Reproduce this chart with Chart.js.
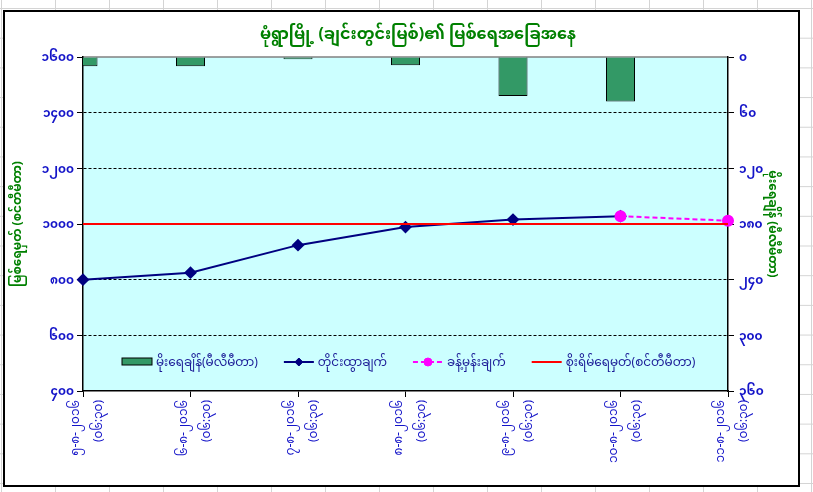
<!DOCTYPE html>
<html>
<head>
<meta charset="utf-8">
<script src="https://cdn.jsdelivr.net/npm/chart.js@4.4.1/dist/chart.umd.min.js"></script>
<style>
  html, body { margin: 0; padding: 0; width: 813px; height: 492px; overflow: hidden; }
  body {
    background-color: #fff;
    background-image:
      linear-gradient(to right, #d4d4d4 1px, transparent 1px),
      linear-gradient(to bottom, #d4d4d4 1px, transparent 1px);
    background-size: 54px 29.7px;
    background-position: 1px 8px;
  }
  #box {
    position: absolute; left: 3px; top: 10px; width: 797px; height: 477px;
    box-sizing: border-box; border: 2px solid #000; background: #fff;
  }
</style>
</head>
<body>
<div id="box"><canvas id="riverChart"></canvas></div>
<script>
var dates = ["၅-၈-၂၀၁၆", "၆-၈-၂၀၁၆", "၇-၈-၂၀၁၆", "၈-၈-၂၀၁၆", "၉-၈-၂၀၁၆", "၁၀-၈-၂၀၁၆", "၁၁-၈-၂၀၁၆"];
var times = ["(၀၆:၃၀)", "(၀၆:၃၀)", "(၀၆:၃၀)", "(၀၆:၃၀)", "(၀၆:၃၀)", "(၀၆:၃၀)", "(၀၆:၃၀)"];

var rainfall = [10, 10, 2.5, 9, 42, 48, null];
var observed = [800, 825, 924, 989, 1016, 1028, null];
var forecast = [null, null, null, null, null, 1028, 1012];
var dangerLevel = [1000, 1000, 1000, 1000, 1000, 1000, 1000];

var levelTicks = [400, 600, 800, 1000, 1200, 1400, 1600];
var levelTickLabels = ["၄၀၀", "၆၀၀", "၈၀၀", "၁၀၀၀", "၁၂၀၀", "၁၄၀၀", "၁၆၀၀"];
var rainTicks = [0, 60, 120, 180, 240, 300, 360];
var rainTickLabels = ["၀", "၆၀", "၁၂၀", "၁၈၀", "၂၄၀", "၃၀၀", "၃၆၀"];

var mmFont = "'Noto Sans Myanmar', 'Padauk', 'Myanmar Text', 'Noto Sans', sans-serif";
var tickBlue = "#1414c8";
var titleGreen = "#008000";

var xLabels = dates.map(function(d, i) {
  return [d, times[i]];
});

var plotBackground = {
  id: "plotBackground",
  beforeDraw: function(chart) {
    var a = chart.chartArea, ctx = chart.ctx;
    ctx.save();
    ctx.fillStyle = "#ccffff";
    ctx.fillRect(a.left, a.top, a.right - a.left, a.bottom - a.top);
    ctx.strokeStyle = "#808080";
    ctx.lineWidth = 1.5;
    ctx.beginPath();
    ctx.moveTo(a.left, a.top);
    ctx.lineTo(a.right, a.top);
    ctx.stroke();
    ctx.restore();
  }
};

// legend sits inside the plot, near the bottom
var insideLegend = {
  id: "insideLegend",
  afterDatasetsDraw: function(chart) {
    var a = chart.chartArea, ctx = chart.ctx;
    var y = a.bottom - 29;
    var x = a.left + 39;
    ctx.save();
    ctx.font = "12px " + mmFont;
    ctx.textBaseline = "middle";
    chart.data.datasets.forEach(function(ds) {
      var w = 30;
      if (ds.type === "bar") {
        ctx.fillStyle = ds.backgroundColor;
        ctx.fillRect(x, y - 4, w, 7);
        ctx.strokeStyle = ds.borderColor;
        ctx.lineWidth = 1;
        ctx.strokeRect(x, y - 4, w, 7);
      } else {
        ctx.strokeStyle = ds.borderColor;
        ctx.lineWidth = ds.borderWidth;
        ctx.setLineDash(ds.borderDash || []);
        ctx.beginPath();
        ctx.moveTo(x, y);
        ctx.lineTo(x + w, y);
        ctx.stroke();
        ctx.setLineDash([]);
        if (ds.pointRadius) {
          ctx.fillStyle = ds.pointBackgroundColor;
          ctx.strokeStyle = ds.pointBorderColor;
          ctx.lineWidth = 1;
          Chart.helpers.drawPoint(ctx, { pointStyle: ds.pointStyle, radius: ds.pointRadius - 1, borderWidth: 1 }, x + w / 2, y);
        }
      }
      ctx.fillStyle = "#1a1a96";
      ctx.fillText(ds.label, x + w + 4, y + 3);
      x += w + 4 + ctx.measureText(ds.label).width + 26;
    });
    ctx.restore();
  }
};

var ctx = document.getElementById("riverChart").getContext("2d");
new Chart(ctx, {
  type: "line",
  data: {
    labels: xLabels,
    datasets: [{
      type: "bar",
      label: "မိုးရေချိန်(မီလီမီတာ)",
      data: rainfall,
      yAxisID: "y2",
      backgroundColor: "#339966",
      borderColor: "#000000",
      borderWidth: 1,
      barPercentage: 0.27,
      categoryPercentage: 1,
      clip: 0,
      order: 3
    }, {
      type: "line",
      label: "တိုင်းထွာချက်",
      data: observed,
      yAxisID: "y",
      borderColor: "#000080",
      borderWidth: 2,
      pointStyle: "rectRot",
      pointRadius: 5,
      pointBackgroundColor: "#000080",
      pointBorderColor: "#000080",
      tension: 0,
      order: 2
    }, {
      type: "line",
      label: "ခန့်မှန်းချက်",
      data: forecast,
      yAxisID: "y",
      borderColor: "#ff00ff",
      borderWidth: 2,
      borderDash: [5, 3],
      pointStyle: "circle",
      pointRadius: 5,
      pointBackgroundColor: "#ff00ff",
      pointBorderColor: "#ff00ff",
      tension: 0,
      order: 1
    }, {
      type: "line",
      label: "စိုးရိမ်ရေမှတ်(စင်တီမီတာ)",
      data: dangerLevel,
      yAxisID: "y",
      borderColor: "#ff0000",
      borderWidth: 2,
      pointRadius: 0,
      tension: 0,
      order: 0
    }]
  },
  options: {
    responsive: true,
    maintainAspectRatio: false,
    animation: false,
    layout: { padding: 0 },
    plugins: {
      legend: { display: false },
      tooltip: { enabled: false },
      title: {
        display: true,
        fullSize: false,
        text: "      မုံရွာမြို့ (ချင်းတွင်းမြစ်)၏ မြစ်ရေအခြေအနေ",
        color: titleGreen,
        font: { family: mmFont, size: 16, weight: "bold" },
        padding: { top: 16, bottom: 9.8 }
      }
    },
    scales: {
      x: {
        offset: false,
        grid: { offset: false, drawOnChartArea: false, color: "#000", tickLength: 6 },
        border: { color: "#000", width: 1.5 },
        ticks: {
          autoSkip: false,
          maxRotation: 90,
          minRotation: 90,
          color: tickBlue,
          labelOffset: -5,
          padding: 3,
          font: { family: mmFont, size: 12, lineHeight: 1.9 }
        },
        afterFit: function(s) { s.height = 94; }
      },
      y: {
        position: "left",
        min: 400,
        max: 1600,
        afterBuildTicks: function(s) {
          s.ticks = levelTicks.map(function(v) { return { value: v }; });
        },
        ticks: {
          color: tickBlue,
          padding: 3,
          labelOffset: 3,
          font: { family: mmFont, size: 12, weight: "bold" },
          callback: function(v) { return levelTickLabels[levelTicks.indexOf(v)]; }
        },
        grid: {
          color: function(c) {
            if (c.tick && (c.tick.value === 1600 || c.tick.value === 400)) return "rgba(0,0,0,0)";
            return "#000";
          },
          tickColor: "#000",
          lineWidth: 1,
          tickLength: 6,
          tickBorderDash: []
        },
        border: { color: "#000", width: 1.5, dash: [3, 2] },
        title: {
          display: true,
          text: "မြစ်ရေမှတ် (စင်တီမီတာ)",
          color: titleGreen,
          font: { family: mmFont, size: 12, weight: "bold" },
          padding: 8
        },
        afterFit: function(s) { s.width = 78; }
      },
      y2: {
        position: "right",
        reverse: true,
        min: 0,
        max: 360,
        afterBuildTicks: function(s) {
          s.ticks = rainTicks.map(function(v) { return { value: v }; });
        },
        ticks: {
          color: tickBlue,
          padding: 5,
          labelOffset: 3,
          font: { family: mmFont, size: 12, weight: "bold" },
          callback: function(v) { return rainTickLabels[rainTicks.indexOf(v)]; }
        },
        grid: { drawOnChartArea: false, color: "#000", tickLength: 6 },
        border: { color: "#000", width: 1.5 },
        title: {
          display: true,
          text: "မိုးရေချိန် (မီလီမီတာ)",
          color: titleGreen,
          font: { family: mmFont, size: 12, weight: "bold" },
          padding: 21
        },
        afterFit: function(s) { s.width = 70; }
      }
    }
  },
  plugins: [plotBackground, insideLegend]
});
</script>
</body>
</html>
